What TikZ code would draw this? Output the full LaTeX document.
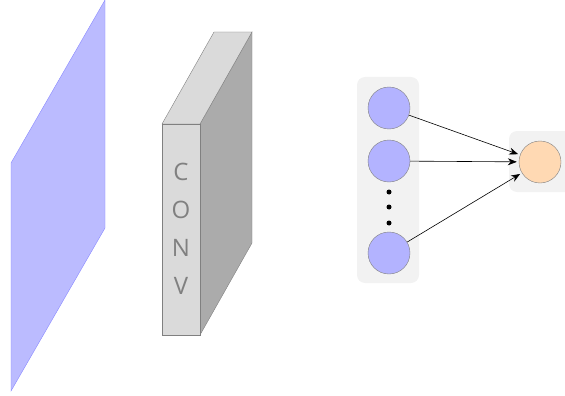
\documentclass[tikz,border=0pt]{standalone}
\usepackage{fontspec}
\setsansfont{Open Sans}
\usetikzlibrary{arrows.meta}
\definecolor{inblue}{HTML}{BBBBFF}
\definecolor{inedge}{HTML}{8888FF}
\definecolor{convfront}{HTML}{DADADA}
\definecolor{convside}{HTML}{ABABAB}
\definecolor{panel}{HTML}{F2F2F2}
\definecolor{neuron}{HTML}{B3B3FF}
\definecolor{outneuron}{HTML}{FFD9B3}
\tikzset{
	neur/.style={circle, draw=gray, fill=neuron, minimum size=42pt, inner sep=0pt},
	dot/.style={circle, fill=black, minimum size=5pt, inner sep=0pt},
	link/.style={-{Stealth[length=9pt,width=7pt]}, semithick, shorten >=2pt}
}
\begin{document}
\begin{tikzpicture}[x=1pt,y=-1pt]
				\useasboundingbox (0,0) rectangle (565,396);
				% input plane
				\draw[inedge, fill=inblue] (11,163)--(105,0)--(105,228)--(11,391)--cycle;
				
				% conv block
				\draw[gray, fill=convside] (200,124)--(252,32)--(252,243)--(200,335)--cycle;
				\draw[gray, fill=convfront] (162,124)--(214,32)--(252,32)--(200,124)--cycle;
				\draw[gray, fill=convfront] (162,124) rectangle (200,335);
				\foreach \l [count=\i] in {C,O,N,V}
				{
					\node[gray, font=\sffamily\fontsize{24}{24}\selectfont] (c\i) at (181,134+38*\i) {\l};
				}
				
				% layers
				\fill[panel, rounded corners=8pt] (357,77) rectangle (419,283);
				\fill[panel, rounded corners=8pt] (509,131) rectangle (575,192);
				\node[neur] (h1) at (389,108) {};
				\node[neur] (h2) at (389,161) {};
				\node[neur] (h3) at (389,253) {};
				\foreach \y in {192,207,223}
				{
					\node[dot] at (389,\y) {};
				}
				\node[neur, fill=outneuron] (out) at (540,162) {};
				\foreach \h in {h1,h2,h3}
				{
					\draw[link] (\h) -- (out);
				}
			\end{tikzpicture}
\end{document}
